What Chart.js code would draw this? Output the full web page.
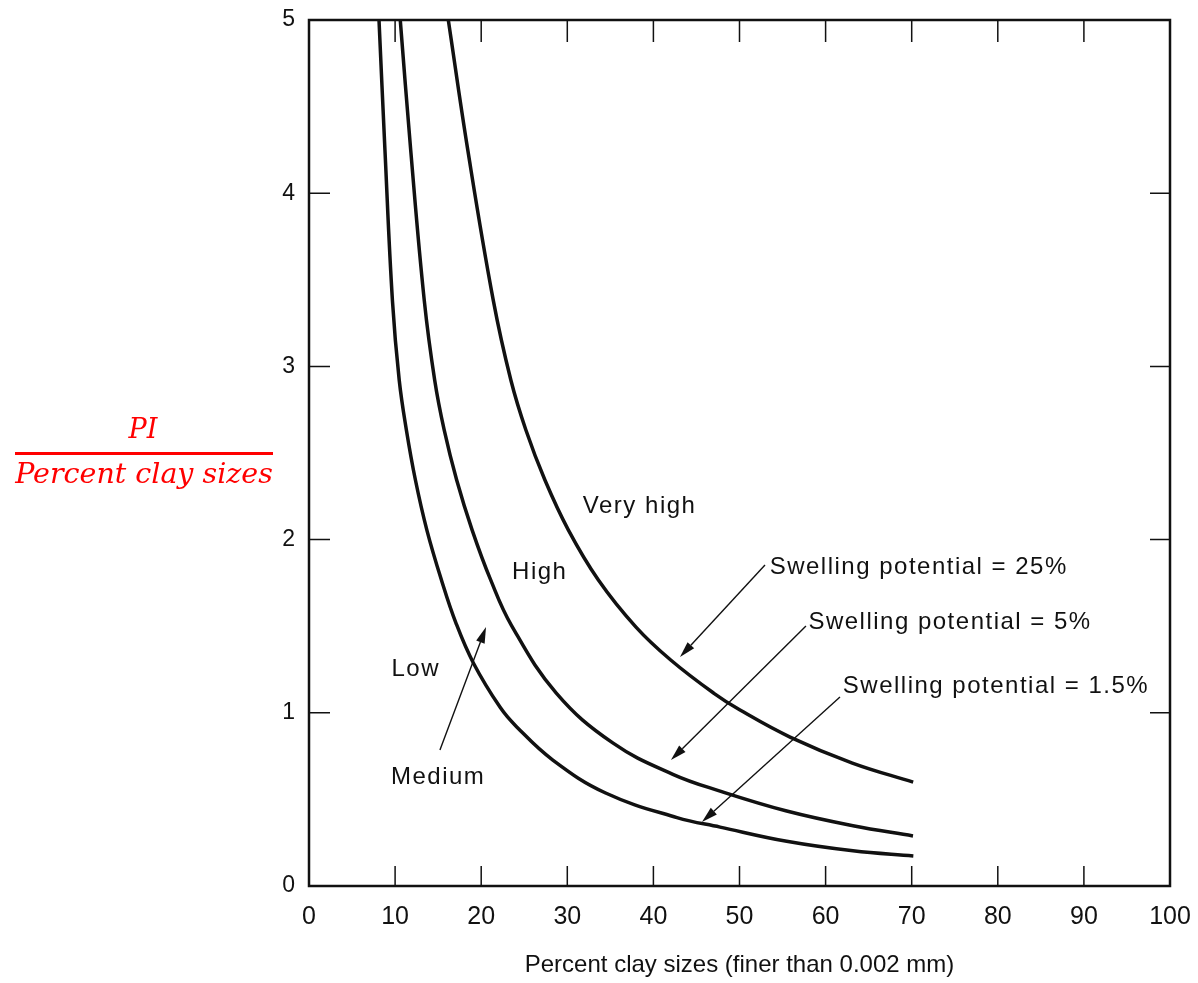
<!DOCTYPE html>
<html><head><meta charset="utf-8">
<script src="https://cdn.jsdelivr.net/npm/chart.js@4.4.1/dist/chart.umd.min.js"></script>
<style>html,body{margin:0;padding:0;background:#fff;}#wrap{position:relative;width:1198px;height:983px;}</style>
</head><body><div id="wrap"><canvas id="c" width="1198" height="983"></canvas></div>
<script>
// ---- data ----
const xTickValues = [0, 10, 20, 30, 40, 50, 60, 70, 80, 90, 100];
const yTickValues = [0, 1, 2, 3, 4, 5];

const sp15X = [8.13, 8.82, 9.69, 10.48, 11.31, 12.36, 13.69, 15.38, 17.07, 19.12, 22.22, 24.10, 28.32, 34.45, 42.74, 47.74, 55.48, 63.18, 70.19];
const sp15Y = [5.00, 4.25, 3.38, 2.92, 2.633, 2.344, 2.055, 1.767, 1.518, 1.285, 1.030, 0.920, 0.727, 0.537, 0.395, 0.340, 0.258, 0.203, 0.173];

const sp5X = [10.60, 11.81, 13.39, 14.60, 15.70, 17.15, 18.95, 21.10, 23.51, 28.72, 35.28, 42.26, 47.74, 55.48, 63.18, 70.15];
const sp5Y = [5.00, 4.25, 3.38, 2.92, 2.633, 2.344, 2.055, 1.767, 1.505, 1.114, 0.826, 0.645, 0.548, 0.433, 0.348, 0.289];

const sp25X = [16.18, 18.44, 21.41, 23.45, 25.19, 27.40, 30.13, 33.61, 37.98, 42.01, 46.99, 50.06, 55.87, 63.11, 70.17];
const sp25Y = [5.00, 4.25, 3.38, 2.92, 2.633, 2.344, 2.055, 1.767, 1.495, 1.305, 1.114, 1.016, 0.860, 0.710, 0.600];

const regionLabels = ['Very high', 'High', 'Low', 'Medium'];
const regionLabelX = [38.4, 26.8, 12.4, 15.0];
const regionLabelY = [2.19, 1.81, 1.25, 0.63];

const potentialLabels = ['Swelling potential = 25%', 'Swelling potential = 5%', 'Swelling potential = 1.5%'];
const potentialLabelX = [53.5, 58.0, 62.0];
const potentialLabelY = [1.84, 1.52, 1.155];

// arrows: tail [x, y] -> head [x, y]
const arrowTails = [[52.96, 1.853], [57.72, 1.501], [61.67, 1.091], [15.21, 0.785]];
const arrowHeads = [[43.09, 1.322], [42.04, 0.727], [45.64, 0.370], [20.56, 1.495]];

const xTitle = 'Percent clay sizes (finer than 0.002 mm)';
const yTitleTop = 'PI';
const yTitleBottom = 'Percent clay sizes';

// ---- build ----
const toPts = (xs, ys) => xs.map((v, i) => ({x: v, y: ys[i]}));
const INK = '#111';
const SANS = '"Liberation Sans", Arial, sans-serif';
const mkSet = (label, xs, ys) => ({
  label, data: toPts(xs, ys), borderColor: INK, borderWidth: 3.5,
  pointRadius: 0, fill: false, tension: 0.4
});
const noPad = s => { s.paddingLeft = 0; s.paddingRight = 0; s.paddingTop = 0; s.paddingBottom = 0; };

const deco = {
  id: 'deco',
  afterDatasetsDraw(chart) {
    const {ctx, chartArea: a, scales: {x, y}} = chart;
    ctx.save();
    ctx.strokeStyle = INK;
    ctx.lineWidth = 2.5;
    ctx.strokeRect(a.left, a.top, a.right - a.left, a.bottom - a.top);
    ctx.lineWidth = 1.5;
    ctx.beginPath();
    xTickValues.forEach(v => {
      if (v <= x.min || v >= x.max) return;
      const px = x.getPixelForValue(v);
      ctx.moveTo(px, a.bottom); ctx.lineTo(px, a.bottom - 20);
      ctx.moveTo(px, a.top); ctx.lineTo(px, a.top + 22);
    });
    yTickValues.forEach(v => {
      if (v <= y.min || v >= y.max) return;
      const py = y.getPixelForValue(v);
      ctx.moveTo(a.left, py); ctx.lineTo(a.left + 21, py);
      ctx.moveTo(a.right, py); ctx.lineTo(a.right - 20, py);
    });
    ctx.stroke();

    // arrows
    ctx.fillStyle = INK;
    ctx.lineWidth = 1.4;
    arrowTails.forEach((t, i) => {
      const h = arrowHeads[i];
      const x1 = x.getPixelForValue(t[0]), y1 = y.getPixelForValue(t[1]);
      const x2 = x.getPixelForValue(h[0]), y2 = y.getPixelForValue(h[1]);
      const ang = Math.atan2(y2 - y1, x2 - x1);
      const L = 16, W = 4.5;
      const bx = x2 - L * Math.cos(ang), by = y2 - L * Math.sin(ang);
      ctx.beginPath(); ctx.moveTo(x1, y1); ctx.lineTo(bx, by); ctx.stroke();
      ctx.beginPath();
      ctx.moveTo(x2, y2);
      ctx.lineTo(bx + W * Math.sin(ang), by - W * Math.cos(ang));
      ctx.lineTo(bx - W * Math.sin(ang), by + W * Math.cos(ang));
      ctx.closePath(); ctx.fill();
    });

    // labels
    ctx.font = '24px ' + SANS;
    ctx.letterSpacing = '1.5px';
    ctx.textBaseline = 'middle';
    ctx.textAlign = 'center';
    regionLabels.forEach((s, i) => {
      ctx.fillText(s, x.getPixelForValue(regionLabelX[i]), y.getPixelForValue(regionLabelY[i]));
    });
    ctx.textAlign = 'left';
    potentialLabels.forEach((s, i) => {
      ctx.fillText(s, x.getPixelForValue(potentialLabelX[i]), y.getPixelForValue(potentialLabelY[i]));
    });
    ctx.letterSpacing = '0px';

    // y title (fraction)
    ctx.fillStyle = '#ff0000';
    ctx.strokeStyle = '#ff0000';
    ctx.textAlign = 'center';
    ctx.textBaseline = 'alphabetic';
    ctx.font = 'italic 27px "DejaVu Serif", serif';
    ctx.fillText(yTitleTop, 143, 438);
    ctx.font = 'italic 28.5px "DejaVu Serif", serif';
    ctx.fillText(yTitleBottom, 144, 483);
    ctx.lineWidth = 3;
    ctx.beginPath(); ctx.moveTo(15, 453.5); ctx.lineTo(273, 453.5); ctx.stroke();
    ctx.restore();
  }
};

new Chart(document.getElementById('c'), {
  type: 'line',
  data: { datasets: [
    mkSet('Swelling potential = 1.5%', sp15X, sp15Y),
    mkSet('Swelling potential = 5%', sp5X, sp5Y),
    mkSet('Swelling potential = 25%', sp25X, sp25Y)
  ]},
  options: {
    responsive: false, animation: false, devicePixelRatio: 1,
    layout: { padding: { top: 20, right: 28, left: 0, bottom: 0 } },
    plugins: { legend: { display: false }, tooltip: { enabled: false } },
    scales: {
      x: {
        type: 'linear', min: 0, max: 100,
        afterBuildTicks: s => { s.ticks = xTickValues.map(v => ({value: v})); },
        ticks: { color: INK, padding: 16, font: { family: SANS, size: 25 } },
        grid: { display: false, drawTicks: false },
        border: { display: false },
        title: { display: true, text: xTitle, color: INK, padding: { top: 0, bottom: 3 },
                 font: { family: SANS, size: 24 } },
        afterFit: s => { s.height = 97; noPad(s); }
      },
      y: {
        type: 'linear', min: 0, max: 5,
        afterBuildTicks: s => { s.ticks = yTickValues.map(v => ({value: v})); },
        ticks: { color: INK, padding: 14, font: { family: SANS, size: 23 } },
        grid: { display: false, drawTicks: false },
        border: { display: false },
        afterFit: s => { s.width = 309; noPad(s); }
      }
    }
  },
  plugins: [deco]
});
</script></body></html>
